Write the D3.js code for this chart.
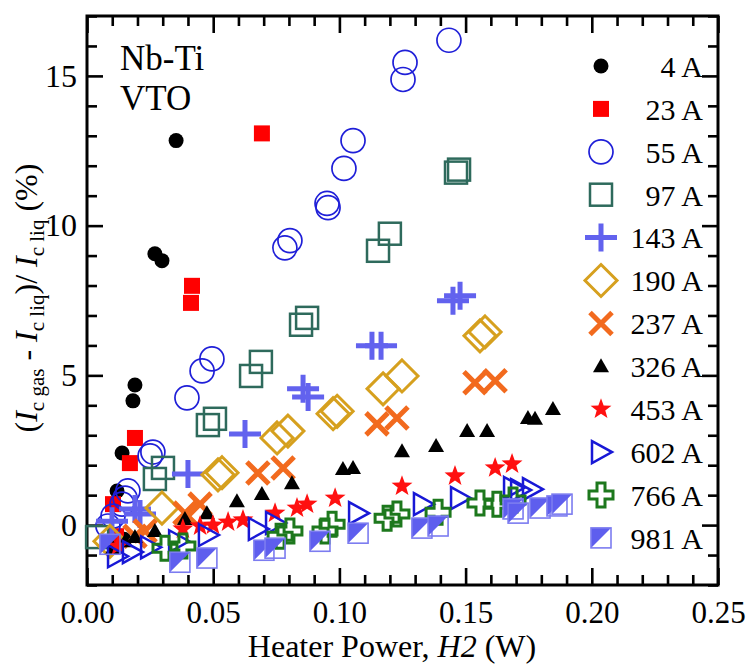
<!DOCTYPE html>
<html><head><meta charset="utf-8">
<script src="https://cdn.jsdelivr.net/npm/d3@7"></script>
<style>
body{margin:0;background:#fff}
text{font-family:"Liberation Serif","Times New Roman",serif;fill:#000}
</style>
</head><body>
<svg id="c" width="749" height="666"></svg>
<script>
// ---------------- DATA ----------------
const seriesNames = ["4 A","23 A","55 A","97 A","143 A","190 A","237 A","326 A","453 A","602 A","766 A","981 A"];
const d4A   = [[0.0147,-0.47],[0.0119,1.14],[0.0139,2.41],[0.0182,4.15],[0.0190,4.68],[0.0269,9.06],[0.0297,8.83],[0.0353,12.84]];
const d23A  = [[0.0115,-0.37],[0.0103,0.70],[0.0170,2.07],[0.0190,2.91],[0.0412,7.42],[0.0416,7.99],[0.0693,13.08]];
const d55A  = [[0.0083,-0.03],[0.0103,0.30],[0.0139,0.70],[0.0151,0.90],[0.0162,1.14],[0.0250,2.31],[0.0261,2.44],[0.0396,4.25],[0.0456,5.15],[0.0495,5.55],[0.0784,9.26],[0.0804,9.50],[0.0951,10.74],[0.0955,10.60],[0.1018,11.91],[0.1054,12.84],[0.1252,14.88],[0.1260,15.45],[0.1434,16.19]];
const d97A  = [[0.0040,-0.40],[0.0269,1.54],[0.0301,1.91],[0.0479,3.34],[0.0507,3.55],[0.0650,4.98],[0.0689,5.45],[0.0848,6.69],[0.0872,6.92],[0.1153,9.16],[0.1200,9.73],[0.1462,11.77],[0.1474,11.87]];
const d143A = [[0.0099,0.13],[0.0190,0.54],[0.0210,0.37],[0.0400,1.71],[0.0626,3.04],[0.0856,4.55],[0.0876,4.28],[0.1129,5.99],[0.1165,5.99],[0.1450,7.49],[0.1478,7.66]];
const d190A = [[0.0091,-0.54],[0.0297,0.57],[0.0519,1.68],[0.0535,1.75],[0.0753,2.91],[0.0796,3.14],[0.0975,3.72],[0.0991,3.80],[0.1173,4.55],[0.1248,4.98],[0.1557,6.32],[0.1577,6.45]];
const d237A = [[0.0190,-0.37],[0.0230,-0.20],[0.0388,0.40],[0.0448,0.70],[0.0677,1.74],[0.0777,1.91],[0.1149,3.38],[0.1228,3.58],[0.1537,4.75],[0.1617,4.82]];
const d326A = [[0.0103,-0.77],[0.0151,-0.54],[0.0190,-0.40],[0.0269,-0.20],[0.0388,0.20],[0.0475,0.40],[0.0594,0.80],[0.0693,1.04],[0.0812,1.40],[0.1014,1.87],[0.1054,1.91],[0.1248,2.47],[0.1383,2.64],[0.1506,3.14],[0.1585,3.14],[0.1747,3.58],[0.1775,3.55],[0.1846,3.88]];
const d453A = [[0.0123,-0.70],[0.0380,-0.13],[0.0448,-0.03],[0.0499,0.00],[0.0559,0.10],[0.0618,0.17],[0.0745,0.40],[0.0832,0.57],[0.0872,0.70],[0.0983,0.90],[0.1248,1.30],[0.1458,1.64],[0.1617,1.91],[0.1684,2.04]];
const d602A = [[0.0119,-1.04],[0.0178,-0.90],[0.0250,-0.74],[0.0361,-0.54],[0.0479,-0.33],[0.0677,-0.13],[0.0745,0.07],[0.1074,0.40],[0.1331,0.70],[0.1478,0.90],[0.1688,1.24],[0.1716,1.17],[0.1763,1.20]];
const d766A = [[0.0309,-0.77],[0.0380,-0.70],[0.0765,-0.37],[0.0804,-0.20],[0.0943,-0.20],[0.0971,0.03],[0.1189,0.23],[0.1228,0.37],[0.1391,0.43],[0.1557,0.74],[0.1624,0.70],[0.1688,0.84]];
const d981A = [[0.0091,-0.64],[0.0368,-1.24],[0.0475,-1.10],[0.0701,-0.84],[0.0745,-0.77],[0.0923,-0.54],[0.1074,-0.27],[0.1327,-0.10],[0.1391,-0.03],[0.1688,0.54],[0.1708,0.40],[0.1795,0.57],[0.1862,0.64],[0.1882,0.70]];
const seriesData = [d4A,d23A,d55A,d97A,d143A,d190A,d237A,d326A,d453A,d602A,d766A,d981A];

const xMajorTicks = [0,0.05,0.10,0.15,0.20,0.25];
const yMajorTicks = [0,5,10,15];
const xDomain = [0,0.25];
const yDomain = [-2,17];

// ---------------- STYLE ----------------
const styles = [
  {shape:"fcircle", color:"#000000"},
  {shape:"fsquare", color:"#ff0000"},
  {shape:"ocircle", color:"#1f1fd8"},
  {shape:"osquare", color:"#2e6a5c"},
  {shape:"plus",    color:"#6262ee"},
  {shape:"diamond", color:"#d6a01e"},
  {shape:"xcross",  color:"#f26a1e"},
  {shape:"triangle",color:"#000000"},
  {shape:"star",    color:"#ff1010"},
  {shape:"rtri",    color:"#1818d6"},
  {shape:"ocross",  color:"#1d781d"},
  {shape:"halfsq",  color:"#5e5eee"}
];

const M={l:87,r:718,t:16,b:585};
const svg=d3.select("#c");
const x=d3.scaleLinear().domain(xDomain).range([M.l,M.r]);
const y=d3.scaleLinear().domain(yDomain).range([M.b,M.t]);

function starPath(R,r){
  let p="";
  for(let i=0;i<10;i++){
    const a=-Math.PI/2+i*Math.PI/5, rr=i%2?r:R;
    p+=(i?"L":"M")+(rr*Math.cos(a)).toFixed(2)+","+(rr*Math.sin(a)).toFixed(2);
  }
  return p+"Z";
}

function drawMarker(g, st){
  const c=st.color;
  switch(st.shape){
    case "fcircle": g.append("circle").attr("r",7.5).attr("fill",c); break;
    case "fsquare": g.append("rect").attr("x",-8).attr("y",-8).attr("width",16).attr("height",16).attr("fill",c); break;
    case "ocircle": g.append("circle").attr("r",12).attr("fill","none").attr("stroke",c).attr("stroke-width",1.7); break;
    case "osquare": g.append("rect").attr("x",-11).attr("y",-11).attr("width",22).attr("height",22).attr("fill","none").attr("stroke",c).attr("stroke-width",2.5); break;
    case "plus": g.append("path").attr("d","M-16,0H16M0,-14V14").attr("stroke",c).attr("stroke-width",5).attr("fill","none"); break;
    case "diamond": g.append("path").attr("d","M0,-16L16,0L0,16L-16,0Z").attr("fill","none").attr("stroke",c).attr("stroke-width",3); break;
    case "xcross": g.append("path").attr("d","M-11,-11L11,11M-11,11L11,-11").attr("stroke",c).attr("stroke-width",5).attr("fill","none"); break;
    case "triangle": g.append("path").attr("d","M0,-8L8,6L-8,6Z").attr("fill",c); break;
    case "star": g.append("path").attr("d",starPath(11,4.5)).attr("fill",c); break;
    case "rtri": g.append("path").attr("d","M-9,-11L11,0L-9,11Z").attr("fill","none").attr("stroke",c).attr("stroke-width",2.5).attr("stroke-linejoin","miter"); break;
    case "ocross": g.append("path").attr("d","M-4,-12H4V-4H12V4H4V12H-4V4H-12V-4H-4Z").attr("fill","none").attr("stroke",c).attr("stroke-width",3); break;
    case "halfsq":
      g.append("path").attr("d","M-10,-10H10L-10,10Z").attr("fill",c);
      g.append("rect").attr("x",-10).attr("y",-10).attr("width",20).attr("height",20).attr("fill","none").attr("stroke","#7c7cf0").attr("stroke-width",1.6);
      break;
  }
}

// ---------------- AXES ----------------
function minorTicks(dom,step){const a=[];for(let v=dom[0];v<=dom[1]+1e-9;v+=step)a.push(+v.toFixed(4));return a;}
const xMinor=minorTicks(xDomain,0.01).filter(v=>!xMajorTicks.some(t=>Math.abs(t-v)<1e-6));
const yMinor=minorTicks(yDomain,1).filter(v=>!yMajorTicks.some(t=>Math.abs(t-v)<1e-6));

function styleAxis(g){g.attr("font-family",null);g.select(".domain").remove();g.selectAll("line").attr("stroke","#000").attr("stroke-width",2.6);}

// bottom
svg.append("g").attr("transform",`translate(0,${M.b})`)
  .call(d3.axisBottom(x).tickValues(xMajorTicks).tickSize(-17).tickPadding(16).tickFormat(d3.format(".2f")))
  .call(styleAxis).call(g=>g.selectAll("text").attr("font-size",31).attr("fill","#000"));
svg.append("g").attr("transform",`translate(0,${M.b})`)
  .call(d3.axisBottom(x).tickValues(xMinor).tickSize(-10).tickFormat("")).call(styleAxis);
// top
svg.append("g").attr("transform",`translate(0,${M.t})`)
  .call(d3.axisTop(x).tickValues(xMajorTicks).tickSize(-17).tickFormat("")).call(styleAxis);
svg.append("g").attr("transform",`translate(0,${M.t})`)
  .call(d3.axisTop(x).tickValues(xMinor).tickSize(-10).tickFormat("")).call(styleAxis);
// left
svg.append("g").attr("transform",`translate(${M.l},0)`)
  .call(d3.axisLeft(y).tickValues(yMajorTicks).tickSize(-16).tickPadding(10).tickFormat(d3.format("d")))
  .call(styleAxis).call(g=>g.selectAll("text").attr("font-size",32).attr("fill","#000"));
svg.append("g").attr("transform",`translate(${M.l},0)`)
  .call(d3.axisLeft(y).tickValues(yMinor).tickSize(-10).tickFormat("")).call(styleAxis);
// right
svg.append("g").attr("transform",`translate(${M.r},0)`)
  .call(d3.axisRight(y).tickValues(yMajorTicks).tickSize(-16).tickFormat("")).call(styleAxis);
svg.append("g").attr("transform",`translate(${M.r},0)`)
  .call(d3.axisRight(y).tickValues(yMinor).tickSize(-10).tickFormat("")).call(styleAxis);

// frame
svg.append("rect").attr("x",M.l).attr("y",M.t).attr("width",M.r-M.l).attr("height",M.b-M.t)
  .attr("fill","none").attr("stroke","#000").attr("stroke-width",3);

// ---------------- DATA MARKS ----------------
const plot=svg.append("g");
seriesData.forEach((data,i)=>{
  const gs=plot.append("g").attr("class","series");
  data.forEach(d=>{
    const g=gs.append("g").attr("transform",`translate(${x(d[0])},${y(d[1])})`);
    drawMarker(g,styles[i]);
  });
});

// ---------------- LEGEND ----------------
const leg=svg.append("g");
seriesNames.forEach((n,i)=>{
  const yy=66+i*42.9;
  const g=leg.append("g").attr("transform",`translate(601,${yy})`);
  drawMarker(g,styles[i]);
  leg.append("text").attr("x",703).attr("y",yy).attr("dy","0.36em").attr("text-anchor","end")
    .attr("font-size",30).text(n);
});

// ---------------- LABELS ----------------
svg.append("text").attr("x",120).attr("y",70).attr("font-size",35).text("Nb-Ti");
svg.append("text").attr("x",120).attr("y",110).attr("font-size",35).text("VTO");

const xt=svg.append("text").attr("x",392).attr("y",657).attr("text-anchor","middle").attr("font-size",32);
xt.append("tspan").text("Heater Power, ");
xt.append("tspan").attr("font-style","italic").text("H2");
xt.append("tspan").text(" (W)");

const yt=svg.append("text").attr("transform","translate(37,298) rotate(-90)").attr("text-anchor","middle").attr("font-size",32);
function sub(t){yt.append("tspan").attr("font-size",21).attr("dy","7").text(t);}
function up(){return yt.append("tspan").attr("dy","-7");}
yt.append("tspan").text("(");
yt.append("tspan").attr("font-style","italic").text("I");
sub("c gas");
up().text(" - ");
yt.append("tspan").attr("font-style","italic").text("I");
sub("c liq");
up().text(")/ ");
yt.append("tspan").attr("font-style","italic").text("I");
sub("c liq");
up().text(" (%)");
</script>
</body></html>
